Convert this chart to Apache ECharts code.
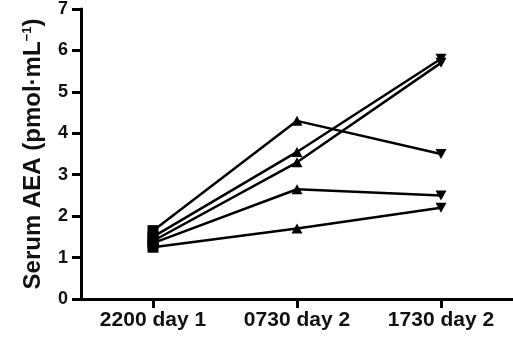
<!DOCTYPE html>
<html><head><meta charset="utf-8">
<script src="https://cdn.jsdelivr.net/npm/echarts@6/dist/echarts.min.js"></script>
<style>html,body{margin:0;padding:0;background:#fff}#c{width:513px;height:339px}</style>
</head><body><div id="c"></div>
<script>
var categories = ['2200 day 1', '0730 day 2', '1730 day 2'];
var subjA = [1.65, 4.3, 3.5];
var subjB = [1.5, 3.55, 5.8];
var subjC = [1.4, 3.3, 5.7];
var subjD = [1.35, 2.65, 2.5];
var subjE = [1.25, 1.7, 2.2];
var yTicks = [0, 1, 2, 3, 4, 5, 6, 7];

var symbols = ['rect', 'triangle', 'path://M0,0 L10,0 L5,9 Z'];
var sizes = [[11, 11], [11, 10], [11, 10]];
function mk(vals) {
  return {
    type: 'line', symbolSize: 10,
    lineStyle: { color: '#000', width: 2.5 },
    itemStyle: { color: '#000' },
    data: vals.map(function (v, i) { return { value: v, symbol: symbols[i], symbolSize: sizes[i] }; }),
    z: 3
  };
}
var FF = 'Liberation Sans, Arial, sans-serif';
var chart = echarts.init(document.getElementById('c'), null, { renderer: 'canvas' });
chart.setOption({
  animation: false,
  grid: { left: 81, right: -5, top: 8, bottom: 40, containLabel: false },
  xAxis: {
    type: 'category', data: categories, boundaryGap: true,
    axisLine: { show: true, lineStyle: { color: '#000', width: 3 } },
    axisTick: { show: true, inside: false, alignWithLabel: true, length: 9, lineStyle: { color: '#000', width: 3, opacity: 1 } },
    axisLabel: { color: '#111', fontFamily: FF, fontWeight: 'bold', fontSize: 21, margin: 11 }
  },
  yAxis: {
    type: 'value', min: yTicks[0], max: yTicks[yTicks.length - 1], interval: 1,
    name: 'Serum AEA (pmol·mL{sup|−1})', nameLocation: 'middle', nameGap: 35, nameRotate: 90,
    nameTextStyle: {
      color: '#111', fontFamily: FF, fontWeight: 'bold', fontSize: 24,
      rich: { sup: { fontSize: 13, fontWeight: 'bold', fontFamily: FF, color: '#111', verticalAlign: 'top', padding: [0, 0, 12, 0] } }
    },
    splitLine: { show: false },
    axisLine: { show: true, lineStyle: { color: '#000', width: 3 } },
    axisTick: { show: true, inside: false, length: 9, lineStyle: { color: '#000', width: 3, opacity: 1 } },
    axisLabel: { color: '#111', fontFamily: FF, fontWeight: 'bold', fontSize: 18, margin: 13 }
  },
  series: [mk(subjA), mk(subjB), mk(subjC), mk(subjD), mk(subjE)]
});
</script></body></html>
